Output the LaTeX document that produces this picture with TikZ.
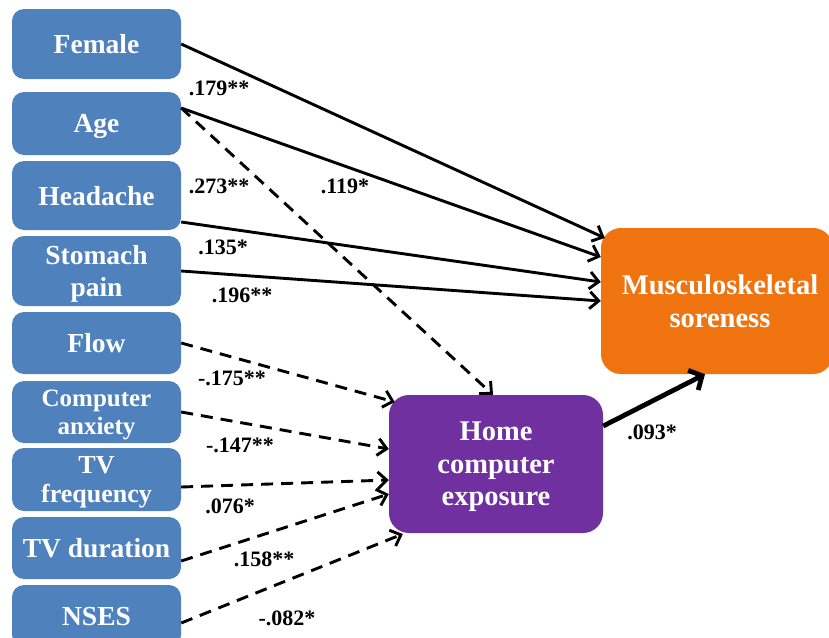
\documentclass[tikz,border=0pt]{standalone}
\usepackage{fontspec}
\setmainfont{Liberation Serif}
\usetikzlibrary{arrows.meta,calc}
\definecolor{boxblue}{HTML}{4F81BD}
\definecolor{boxorange}{HTML}{EF7410}
\definecolor{boxpurple}{HTML}{7030A0}
\tikzset{
  var/.style={fill=boxblue, rounded corners=12pt, minimum width=169pt,
    text=white, font=\bfseries\fontsize{27.5}{32}\selectfont, align=center,
    inner sep=0pt, text depth=0pt},
  outcome/.style={rounded corners=20pt, text=white,
    font=\bfseries\fontsize{28.5}{32.5}\selectfont, align=center, inner sep=0pt,
    text depth=0pt},
  coef/.style={font=\bfseries\fontsize{22}{26}\selectfont, inner sep=0pt},
  path/.style={line width=2.9pt, -{Straight Barb[length=9pt,width=17pt]}},
  dpath/.style={path, dash pattern=on 12pt off 8pt},
}
\begin{document}
\begin{tikzpicture}[x=1pt,y=-1pt]
\useasboundingbox (0,0) rectangle (829,637);
\clip (0,0) rectangle (829,637);

% predictors
\node[var, minimum height=70pt] (female)   at (96.5,44)    {Female};
\node[var, minimum height=63pt] (age)      at (96.5,123.5) {Age};
\node[var, minimum height=69pt] (headache) at (96.5,195.5) {Headache};
\node[var, minimum height=70pt] (stomach)  at (96.5,271)   {Stomach\\pain};
\node[var, minimum height=62pt] (flow)     at (96.5,343)   {Flow};
\node[var, minimum height=62pt, font=\bfseries\fontsize{25}{27.5}\selectfont]
      (anxiety)  at (96.5,412)   {Computer\\anxiety};
\node[var, minimum height=63pt, font=\bfseries\fontsize{26}{28.5}\selectfont]
      (tvfreq)   at (96.5,479.5) {TV\\frequency};
\node[var, minimum height=62pt] (tvdur)    at (96.5,548)   {TV duration};
\node[var, minimum height=62pt] (nses)     at (96.5,616)   {NSES};

% mediator and outcome
\node[outcome, fill=boxpurple, minimum width=214pt, minimum height=138pt]
      (hce) at (496,464) {Home\\computer\\exposure};
\node[outcome, fill=boxorange, minimum width=232pt, minimum height=146pt]
      (ms) at (717,301) {};
\node[outcome] (mslabel) at (720,301) {Musculoskeletal\\soreness};

% direct effects on soreness
\draw[path] (female.east) -- ([xshift=4pt,yshift=63pt]ms.west);
\draw[path] ([yshift=15.5pt]age.east) -- ([yshift=44pt]ms.west);
\draw[path] ([yshift=-26.5pt]headache.east) -- ([yshift=19pt]ms.west);
\draw[path] (stomach.east) -- (ms.west);

% effects on home computer exposure
\draw[dpath] ([yshift=15.5pt]age.east) -- ([xshift=-3pt]hce.north);
\draw[dpath] (flow.east) -- ([xshift=6pt,yshift=62pt]hce.west);
\draw[dpath] (anxiety.east) -- ([yshift=15pt]hce.west);
\draw[dpath] ([yshift=-7.5pt]tvfreq.east) -- ([yshift=-16pt]hce.west);
\draw[dpath] ([yshift=-13pt]tvdur.east) -- ([yshift=-30pt]hce.west);
\draw[dpath] ([yshift=-7pt]nses.east) -- ([xshift=14pt,yshift=-70pt]hce.west);

% mediator to outcome
\draw[line width=4.8pt, -{Straight Barb[length=10pt,width=22pt]}]
  ([yshift=38pt]hce.east) -- ([xshift=-12pt]ms.south);

% coefficients
\node[coef] (c1)  at (219,88)  {.179**};
\node[coef] (c2)  at (219,186) {.273**};
\node[coef] (c3)  at (345,186) {.119*};
\node[coef] (c4)  at (223,247) {.135*};
\node[coef] (c5)  at (242,295) {.196**};
\node[coef] (c6)  at (232,378) {-.175**};
\node[coef] (c7)  at (240,445) {-.147**};
\node[coef] (c8)  at (230,506) {.076*};
\node[coef] (c9)  at (264,559) {.158**};
\node[coef] (c10) at (287,618) {-.082*};
\node[coef] (c11) at (652,432) {.093*};
\end{tikzpicture}
\end{document}
